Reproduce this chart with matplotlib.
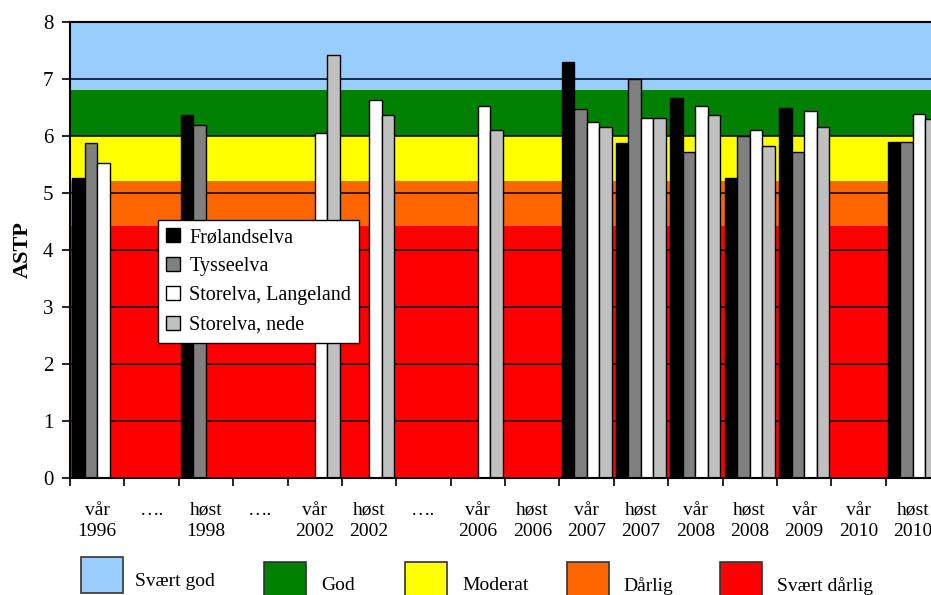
import numpy as np
import matplotlib
matplotlib.use("Agg")
import matplotlib.pyplot as plt
from matplotlib.patches import Rectangle

plt.rcParams['font.family'] = ['Liberation Serif', 'DejaVu Serif']

categories = ['vår\n1996', '….', 'høst\n1998', '….', 'vår\n2002', 'høst\n2002',
              '….', 'vår\n2006', 'høst\n2006', 'vår\n2007', 'høst\n2007',
              'vår\n2008', 'høst\n2008', 'vår\n2009', 'vår\n2010', 'høst\n2010']
nan = np.nan
frolandselva = [5.27, nan, 6.37, nan, nan, nan, nan, nan, nan, 7.30, 5.88, 6.66, 5.26, 6.49, nan, 5.89]
tysseelva = [5.88, nan, 6.19, nan, nan, nan, nan, nan, nan, 6.48, 7.00, 5.72, 6.00, 5.72, nan, 5.89]
storelva_langeland = [5.53, nan, nan, nan, 6.06, 6.63, nan, 6.53, nan, 6.24, 6.31, 6.53, 6.11, 6.43, nan, 6.38]
storelva_nede = [nan, nan, nan, nan, 7.42, 6.36, nan, 6.11, nan, 6.16, 6.31, 6.36, 5.82, 6.16, nan, 6.29]

series = ['Frølandselva', 'Tysseelva', 'Storelva, Langeland', 'Storelva, nede']
bar_colors = ['#000000', '#808080', '#ffffff', '#c0c0c0']

band_names = ['Svært dårlig', 'Dårlig', 'Moderat', 'God', 'Svært god']
band_edges = [0, 4.42, 5.21, 6.0, 6.8, 8.0]
band_colors = ['#ff0000', '#ff6600', '#ffff00', '#008000', '#99ccff']

W, H = 931, 595
fig = plt.figure(figsize=(W / 100, H / 100), dpi=100)
# plot area runs past the right edge like the cropped original
ax = fig.add_axes([70 / W, 1 - 478 / H, 870 / W, 456 / H])

for lo, hi, c in zip(band_edges[:-1], band_edges[1:], band_colors):
    ax.axhspan(lo, hi, color=c, lw=0, zorder=0)
for yv in range(1, 8):
    ax.axhline(yv, color='black', lw=1.1, zorder=1)

x = np.arange(len(categories))
w = 0.23
data = [frolandselva, tysseelva, storelva_langeland, storelva_nede]
handles = []
for k, (vals, col, name) in enumerate(zip(data, bar_colors, series)):
    vals = np.array(vals)
    ok = ~np.isnan(vals)
    b = ax.bar(x[ok] + (k - 1.5) * w, vals[ok], width=w, color=col,
               edgecolor='black', linewidth=1.0, zorder=2, label=name)
    handles.append(b)

ax.set_xlim(-0.5, len(categories) - 0.5)
ax.set_ylim(0, 8)
ax.set_yticks(range(0, 9))
ax.tick_params(axis='y', direction='out', length=6, width=1.2, pad=6, labelsize=15)
ax.set_xticks(np.arange(len(categories) + 1) - 0.5)
ax.set_xticklabels([])
ax.tick_params(axis='x', which='major', direction='out', length=6, width=1.2)
ax.set_xticks(x, minor=True)
ax.set_xticklabels(categories, minor=True, fontsize=14, linespacing=1.35)
ax.tick_params(axis='x', which='minor', length=0, pad=17)
for s in ax.spines.values():
    s.set_linewidth(1.5)
ax.set_ylabel('ASTP', fontsize=16, fontweight='bold', labelpad=7)

leg = ax.legend(handles=handles, loc='upper left',
                bbox_to_anchor=((158 - 70) / 870, (478 - 220) / 456),
                fontsize=14.5, frameon=True, fancybox=False, framealpha=1,
                edgecolor='black', handlelength=0.7, handleheight=0.7,
                handletextpad=0.45, labelspacing=0.5, borderpad=0.4,
                borderaxespad=0)
leg.get_frame().set_linewidth(1.0)
leg.set_zorder(5)

# colour-class key under the chart
key_order = ['Svært god', 'God', 'Moderat', 'Dårlig', 'Svært dårlig']
key_box_x = [81, 264, 405, 567, 720]
key_box_top = [557, 562, 562, 562, 562]
key_text_x = [135, 321, 462, 623, 777]
key_text_y = [582, 586, 586, 586, 586]
for name, bx, bt, tx, ty in zip(key_order, key_box_x, key_box_top, key_text_x, key_text_y):
    col = band_colors[band_names.index(name)]
    fig.add_artist(Rectangle((bx / W, 1 - (bt + 36) / H), 42 / W, 36 / H,
                             transform=fig.transFigure, facecolor=col,
                             edgecolor='#333333', linewidth=1.2))
    fig.text(tx / W, 1 - ty / H, name, fontsize=14, va='center', ha='left')

fig.savefig('out.png', dpi=100)
